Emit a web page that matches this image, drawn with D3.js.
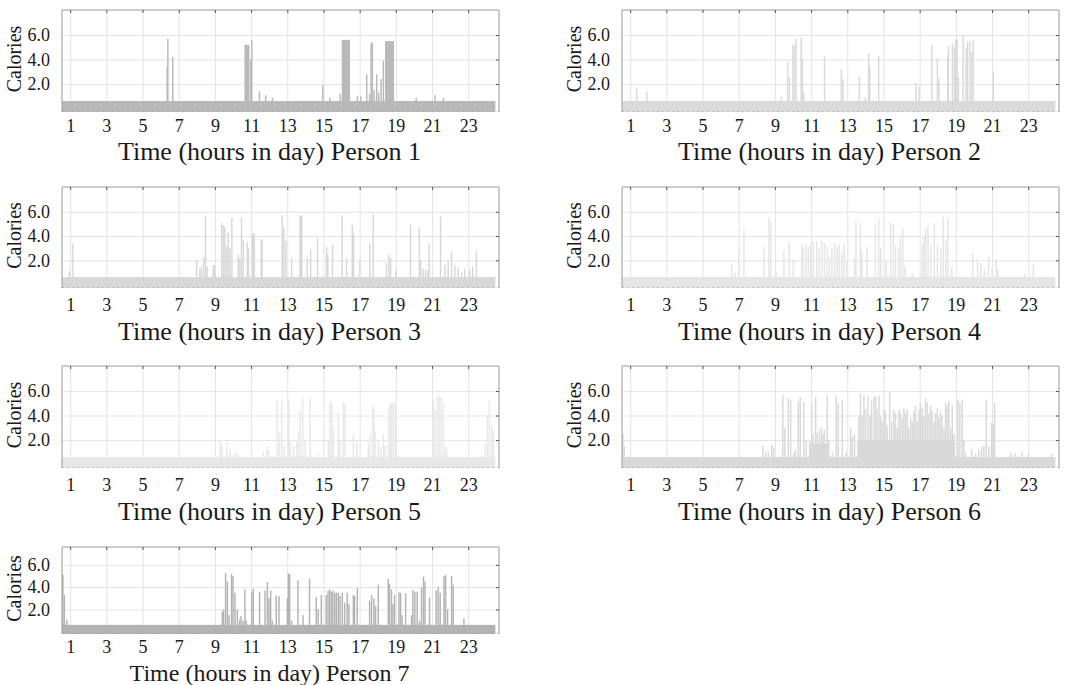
<!DOCTYPE html>
<html>
<head>
<meta charset="utf-8">
<script src="https://cdn.jsdelivr.net/npm/d3@7/dist/d3.min.js"></script>
<style>
  body { margin: 0; background: #fff; }
  text { font-family: "Liberation Serif", "Times New Roman", serif; fill: #1a1a1a; }
</style>
</head>
<body>
<div id="main"></div>
<script>
var hourTicks = [1, 3, 5, 7, 9, 11, 13, 15, 17, 19, 21, 23];
var calorieTicks = [2, 4, 6];
var dayRange = [0.55, 24.5];
var baselineLevel = 0.62;
var personNames = ['Person 1', 'Person 2', 'Person 3', 'Person 4', 'Person 5', 'Person 6', 'Person 7'];

// [hour, calories] short bursts
var person1Spikes = [[6.36,3.4],[6.40,5.7],[6.67,4.2],[10.98,4.0],[11.04,5.6],[11.46,1.4],[11.81,1.1],[12.18,0.9],
  [14.96,1.9],[15.36,0.9],[15.92,1.2],[16.87,1.0],[17.06,1.0],[17.39,2.8],[17.55,1.2],[17.63,5.3],[17.70,5.4],
  [17.80,1.5],[17.94,2.8],[18.05,1.3],[18.18,2.4],[18.31,3.9],[20.12,0.9],[21.17,1.1],[21.63,0.9]];
// [start hour, end hour, calories] sustained activity
var person1Blocks = [[10.63,10.91,5.2],[16.01,16.47,5.6],[18.40,18.90,5.5]];

var person2Spikes = [[1.37,1.7],[1.92,1.35],[9.36,1.0],[9.70,3.8],[9.80,2.6],[9.99,5.2],[10.08,5.2],[10.17,5.7],
  [10.45,5.8],[10.52,4.1],[10.60,1.3],[11.74,4.3],[12.67,3.2],[12.76,2.4],[13.67,2.6],[14.00,0.9],[14.18,4.5],
  [14.24,3.5],[14.73,4.3],[16.79,2.1],[16.97,1.8],[17.67,5.2],[17.98,4.1],[18.07,2.5],[18.55,4.4],[18.59,5.1],
  [18.81,5.3],[18.92,5.0],[18.99,5.6],[19.07,5.7],[19.14,2.6],[19.40,6.05],[19.56,4.9],[19.65,5.45],[19.78,5.5],
  [19.87,4.6],[19.96,5.6],[21.07,3.0]];
var person2Blocks = [];

var person3Spikes = [[0.95,1.1],[1.15,3.4],[7.99,2.0],[8.17,1.3],[8.26,1.5],[8.39,2.2],[8.48,5.6],[8.58,1.5],
  [8.91,1.6],[8.98,1.6],[9.37,5.1],[9.46,4.9],[9.55,4.8],[9.64,3.2],[9.74,4.3],[9.83,3.0],[9.94,5.5],[10.29,2.5],
  [10.38,2.2],[10.47,5.5],[10.57,3.7],[10.79,3.5],[10.86,3.0],[12.72,5.7],[12.81,4.7],[12.92,3.6],[13.24,2.2],
  [14.10,2.2],[14.29,2.9],[14.67,3.9],[15.17,3.1],[15.24,2.5],[15.50,3.3],[16.03,5.7],[16.27,2.2],[16.59,4.9],
  [16.66,4.2],[17.01,2.0],[17.56,3.4],[17.75,5.8],[18.48,1.8],[18.61,2.5],[18.71,2.2],[19.00,1.2],[19.81,4.9],
  [20.29,4.7],[20.38,2.0],[20.51,1.3],[20.64,1.2],[20.77,1.2],[20.84,3.4],[21.47,5.6],[21.71,1.6],[21.89,2.0],
  [22.08,2.7],[22.26,1.6],[22.44,1.4],[22.63,1.0],[22.81,1.3],[23.09,1.2],[23.25,1.5],[23.45,2.8]];
var person3Blocks = [[11.03,11.22,4.2],[11.52,11.65,3.7],[13.66,13.84,5.7]];

var person4Spikes = [[6.61,1.7],[6.79,1.0],[7.01,3.0],[7.29,4.5],[8.41,3.1],[8.67,5.6],[8.78,5.2],[9.09,1.0],
  [9.50,2.8],[9.78,3.5],[10.02,2.0],[10.48,3.3],[10.57,3.0],[10.72,3.3],[10.85,3.1],[10.98,3.3],[11.13,3.6],
  [11.31,3.6],[11.44,3.0],[11.59,3.6],[11.74,3.4],[11.89,3.1],[12.02,2.2],[12.15,3.0],[12.30,3.4],[12.43,3.2],
  [12.56,3.3],[12.70,2.6],[12.83,3.4],[12.98,2.0],[13.41,2.2],[13.48,5.3],[13.72,5.1],[13.81,2.7],[14.09,3.1],
  [14.56,5.1],[14.74,5.4],[14.85,3.0],[15.15,2.0],[15.39,5.2],[15.54,5.0],[15.67,3.3],[15.85,3.0],[15.94,3.9],
  [16.07,4.6],[16.19,1.5],[16.59,0.9],[17.15,3.3],[17.24,4.0],[17.33,4.6],[17.46,4.8],[17.61,3.3],[17.81,5.1],
  [17.98,3.3],[18.17,3.0],[18.30,5.6],[18.44,3.6],[18.56,5.5],[18.78,1.4],[19.93,2.6],[20.20,2.2],[20.39,1.8],
  [20.57,1.2],[20.81,2.3],[21.00,1.3],[21.22,2.1],[21.31,1.3],[22.82,0.9],[23.28,1.7]];
var person4Blocks = [];

var person5Spikes = [[9.29,2.0],[9.38,1.6],[9.66,1.8],[9.84,1.2],[10.12,1.0],[10.25,0.9],[11.68,1.0],[11.87,1.2],
  [11.96,1.5],[12.45,5.3],[12.57,2.6],[12.69,5.3],[12.82,1.5],[13.08,5.3],[13.15,2.0],[13.34,1.5],[13.52,1.8],
  [13.61,2.6],[13.71,4.4],[13.85,5.5],[13.98,2.0],[14.26,5.4],[14.72,0.9],[15.27,2.0],[15.36,5.2],[15.46,5.0],
  [15.55,3.0],[15.82,4.3],[15.92,2.0],[16.10,5.1],[16.19,5.0],[16.65,2.5],[16.84,1.8],[17.48,1.7],[17.57,2.5],
  [17.72,4.8],[17.80,4.5],[17.85,2.7],[18.03,2.0],[18.16,1.5],[18.31,2.5],[18.40,1.6],[18.59,4.6],[18.68,4.9],
  [18.77,5.0],[18.86,5.1],[18.97,5.0],[21.07,5.2],[21.17,4.5],[21.29,5.5],[21.40,5.6],[21.50,5.5],[21.63,5.0],
  [21.72,1.5],[21.81,1.3],[23.93,1.7],[24.06,4.0],[24.17,5.2],[24.30,3.2],[24.39,2.8]];
var person5Blocks = [];

var person6Spikes = [[0.60,2.5],[0.68,1.5],[8.34,1.5],[8.48,1.0],[8.63,1.1],[8.82,1.6],[8.93,1.4],[9.44,5.7],
  [9.55,3.0],[9.74,5.4],[9.87,5.3],[10.05,1.0],[10.14,1.2],[10.29,5.2],[10.40,5.5],[10.60,5.1],[10.73,2.0],
  [10.92,2.0],[11.03,5.0],[11.12,2.5],[11.25,5.5],[11.34,2.6],[11.47,2.8],[11.58,3.0],[11.67,2.5],[11.74,2.8],
  [11.89,5.7],[11.98,2.0],[12.17,1.0],[12.39,5.6],[12.50,5.0],[12.72,5.3],[12.94,1.0],[13.18,3.0],[13.27,2.3],
  [13.40,2.5],[13.64,4.0],[13.73,5.8],[13.83,4.0],[13.92,5.7],[14.01,4.5],[14.14,5.6],[14.25,4.0],[14.34,5.2],
  [14.47,5.5],[14.56,5.6],[14.65,4.5],[14.75,5.6],[14.84,4.0],[14.93,3.5],[15.02,4.5],[15.11,4.3],[15.21,3.2],
  [15.34,5.9],[15.45,3.5],[15.57,4.5],[15.67,4.2],[15.76,3.0],[15.85,4.5],[15.94,4.2],[16.04,3.8],[16.13,4.6],
  [16.22,4.2],[16.31,4.5],[16.40,3.0],[16.50,3.8],[16.59,3.5],[16.68,4.4],[16.77,4.8],[16.86,3.6],[16.96,4.5],
  [17.05,5.0],[17.14,4.6],[17.23,4.0],[17.32,5.4],[17.42,5.1],[17.51,4.2],[17.60,4.8],[17.69,4.4],[17.78,3.5],
  [17.88,4.2],[17.97,4.6],[18.06,3.8],[18.15,4.4],[18.24,4.0],[18.34,3.0],[18.43,5.0],[18.52,4.8],[18.61,5.2],
  [18.71,3.0],[18.80,4.8],[18.89,2.5],[19.11,5.3],[19.22,5.0],[19.35,5.3],[19.44,2.0],[19.53,1.0],[19.87,1.3],
  [20.09,0.9],[20.27,1.2],[20.42,1.4],[20.55,1.6],[20.68,5.3],[20.82,1.5],[20.97,3.4],[21.06,3.3],[21.14,5.1],
  [22.03,1.0],[22.27,0.9],[22.67,1.0],[23.00,0.9],[24.29,0.9]];
var person6Blocks = [[10.9,11.95,1.7],[13.55,18.95,2.0]];

var person7Spikes = [[0.60,5.1],[0.68,3.3],[0.82,1.1],[9.41,1.8],[9.48,2.0],[9.59,5.25],[9.69,4.5],[9.78,1.5],
  [9.92,5.2],[10.00,5.0],[10.11,3.5],[10.24,2.0],[10.37,1.1],[10.44,1.4],[10.55,1.0],[10.66,3.8],[10.73,1.0],
  [11.03,3.55],[11.12,3.85],[11.47,3.6],[11.77,3.7],[11.90,4.45],[11.99,3.0],[12.08,3.7],[12.17,1.0],[12.39,3.25],
  [12.54,3.2],[13.00,3.0],[13.06,5.2],[13.13,5.2],[13.24,1.0],[13.59,4.6],[13.87,1.5],[14.23,4.75],[14.60,3.1],
  [14.71,2.0],[14.88,3.3],[15.15,3.3],[15.25,3.65],[15.34,3.8],[15.43,3.6],[15.52,3.7],[15.62,3.5],[15.71,3.5],
  [15.82,3.5],[15.91,3.2],[16.04,3.5],[16.17,2.6],[16.31,3.5],[16.41,2.5],[16.65,3.3],[16.72,3.2],[16.87,3.9],
  [17.55,2.8],[17.66,3.3],[17.79,3.0],[17.88,2.3],[18.03,4.2],[18.58,4.75],[18.65,4.3],[18.76,3.8],[18.84,2.5],
  [18.93,3.3],[19.17,3.55],[19.26,3.5],[19.35,1.5],[19.54,3.45],[19.87,1.5],[19.94,3.75],[20.05,3.6],[20.18,3.6],
  [20.31,1.0],[20.42,4.0],[20.53,4.95],[20.61,4.5],[20.86,3.1],[21.23,3.7],[21.34,4.0],[21.45,3.5],[21.66,5.0],
  [21.75,5.1],[21.86,2.0],[22.08,5.0],[22.17,4.2],[22.76,1.2]];
var person7Blocks = [];

var spikesByPerson = [person1Spikes, person2Spikes, person3Spikes, person4Spikes, person5Spikes, person6Spikes, person7Spikes];
var blocksByPerson = [person1Blocks, person2Blocks, person3Blocks, person4Blocks, person5Blocks, person6Blocks, person7Blocks];

var fills = ['#b9b9b9', '#dadada', '#d8d8d8', '#e5e5e5', '#e8e8e8', '#d9d9d9', '#b3b3b3'];
var colLeft = [62, 622];
var plotWidth = 437;
var rows = [
  {top: 10, height: 102, tickPad: 7, titleY: 160, titleSize: 26, yDomain: [-0.28, 8.04]},
  {top: 187, height: 101, tickPad: 10, titleY: 340, titleSize: 26, yDomain: [-0.28, 8.04]},
  {top: 366, height: 102, tickPad: 10, titleY: 520, titleSize: 26, yDomain: [-0.28, 8.04]},
  {top: 547, height: 87, tickPad: 6, titleY: 681, titleSize: 24, yDomain: [-0.2, 7.6]}
];
var spikeWidth = 0.08;

var svg = d3.select('#main').append('svg')
  .attr('width', 1065)
  .attr('height', 685);

var drawPanel = function(i) {
  var row = rows[Math.floor(i / 2)];
  var left = colLeft[i % 2];
  var w = plotWidth, h = row.height;

  var x = d3.scaleLinear().domain([0.55, 24.7]).range([0, w]);
  var y = d3.scaleLinear().domain(row.yDomain).range([h, 0]);

  var g = svg.append('g').attr('transform', 'translate(' + left + ',' + row.top + ')');

  g.append('clipPath').attr('id', 'clip' + i)
    .append('rect').attr('width', w).attr('height', h);

  // grid
  g.append('g').attr('class', 'grid')
    .call(d3.axisBottom(x).tickValues(hourTicks).tickSize(h).tickFormat(''));
  g.append('g').attr('class', 'grid')
    .call(d3.axisLeft(y).tickValues(calorieTicks).tickSize(-w).tickFormat(''));
  g.selectAll('.grid .domain').remove();
  g.selectAll('.grid line').attr('stroke', '#e4e4e4');

  var marks = g.append('g').attr('clip-path', 'url(#clip' + i + ')');

  marks.append('rect')
    .attr('x', x(dayRange[0]))
    .attr('width', x(dayRange[1]) - x(dayRange[0]))
    .attr('y', y(baselineLevel))
    .attr('height', h - y(baselineLevel))
    .attr('fill', fills[i]);

  marks.selectAll('rect.block').data(blocksByPerson[i])
    .enter().append('rect').attr('class', 'block')
    .attr('x', function(d) { return x(d[0]); })
    .attr('width', function(d) { return x(d[1]) - x(d[0]); })
    .attr('y', function(d) { return y(d[2]); })
    .attr('height', function(d) { return h - y(d[2]); })
    .attr('fill', fills[i]);

  var sw = Math.max(1.4, x(1 + spikeWidth) - x(1));
  marks.selectAll('rect.spike').data(spikesByPerson[i])
    .enter().append('rect').attr('class', 'spike')
    .attr('x', function(d) { return x(d[0]) - sw / 2; })
    .attr('width', sw)
    .attr('y', function(d) { return y(d[1]); })
    .attr('height', function(d) { return h - y(d[1]); })
    .attr('fill', fills[i]);

  // frame: top, left, right
  g.append('path')
    .attr('d', 'M0,' + h + 'V0H' + w + 'V' + h)
    .attr('fill', 'none')
    .attr('stroke', '#9a9a9a');
  g.append('line')
    .attr('x1', 0).attr('x2', w).attr('y1', h - 0.5).attr('y2', h - 0.5)
    .attr('stroke', '#999').attr('stroke-dasharray', '2,3').attr('opacity', 0.5);

  // little inward ticks on top and right edges
  var topTicks = g.append('g').call(d3.axisTop(x).tickValues(hourTicks).tickSize(-3).tickFormat(''));
  var rightTicks = g.append('g').attr('transform', 'translate(' + w + ',0)')
    .call(d3.axisRight(y).tickValues(calorieTicks).tickSize(-3).tickFormat(''));
  topTicks.select('.domain').remove();
  rightTicks.select('.domain').remove();
  topTicks.selectAll('line').attr('stroke', '#555');
  rightTicks.selectAll('line').attr('stroke', '#555');

  // tick labels
  var xAxis = g.append('g').attr('transform', 'translate(0,' + h + ')')
    .call(d3.axisBottom(x).tickValues(hourTicks).tickSize(0).tickPadding(row.tickPad));
  var yAxis = g.append('g')
    .call(d3.axisLeft(y).tickValues(calorieTicks).tickSize(0).tickPadding(12).tickFormat(d3.format('.1f')));
  xAxis.select('.domain').remove();
  yAxis.select('.domain').remove();
  g.selectAll('.tick text').attr('font-family', '"Liberation Serif", serif').attr('font-size', 18).attr('fill', '#1a1a1a');

  g.append('text')
    .attr('transform', 'translate(-41,' + (h / 2 - 2) + ') rotate(-90)')
    .attr('text-anchor', 'middle')
    .attr('font-size', 20)
    .text('Calories');

  svg.append('text')
    .attr('x', left + w / 2 - 11)
    .attr('y', row.titleY)
    .attr('text-anchor', 'middle')
    .attr('font-size', row.titleSize)
    .text('Time (hours in day) ' + personNames[i]);
};

personNames.forEach(function(name, i) { drawPanel(i); });
</script>
</body>
</html>
